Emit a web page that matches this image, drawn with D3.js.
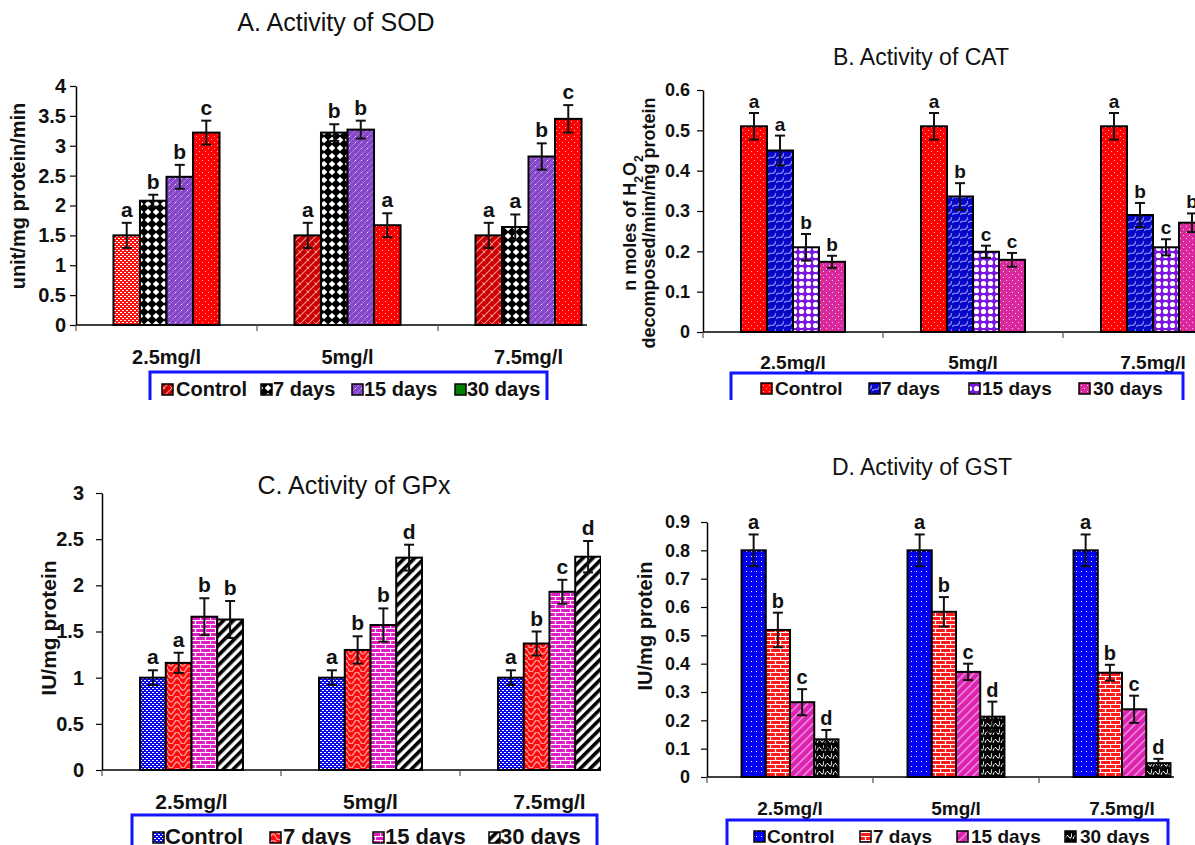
<!DOCTYPE html>
<html>
<head>
<meta charset="utf-8">
<script src="https://cdn.jsdelivr.net/npm/d3@7"></script>
<style>
  body { margin: 0; background: #fff; }
  text { font-family: "Liberation Sans", Arial, sans-serif; }
</style>
</head>
<body>
<svg id="fig" width="1195" height="845"></svg>
<script>
// ---- data (rows = dose, columns = Control / 7 / 15 / 30 days) ----
const doses = ["2.5mg/l", "5mg/l", "7.5mg/l"];
const groups = ["Control", "7 days", "15 days", "30 days"];

const sodMean = [[1.5, 2.08, 2.48, 3.22], [1.5, 3.22, 3.27, 1.67], [1.5, 1.64, 2.82, 3.45]];
const sodErr = [[0.21, 0.1, 0.2, 0.2], [0.21, 0.14, 0.15, 0.2], [0.21, 0.21, 0.22, 0.23]];
const sodSig = [["a", "b", "b", "c"], ["a", "b", "b", "a"], ["a", "a", "b", "c"]];
const sodTicks = [0, 0.5, 1, 1.5, 2, 2.5, 3, 3.5, 4];

const catMean = [[0.51, 0.45, 0.21, 0.174], [0.51, 0.336, 0.199, 0.179], [0.51, 0.29, 0.21, 0.271]];
const catErr = [[0.033, 0.037, 0.033, 0.015], [0.033, 0.033, 0.015, 0.017], [0.033, 0.03, 0.02, 0.023]];
const catSig = [["a", "a", "b", "b"], ["a", "b", "c", "c"], ["a", "b", "c", "b"]];
const catTicks = [0, 0.1, 0.2, 0.3, 0.4, 0.5, 0.6];

const gpxMean = [[1.0, 1.16, 1.66, 1.63], [1.0, 1.3, 1.57, 2.3], [1.0, 1.37, 1.93, 2.31]];
const gpxErr = [[0.08, 0.11, 0.2, 0.2], [0.08, 0.148, 0.18, 0.14], [0.08, 0.13, 0.13, 0.17]];
const gpxSig = [["a", "a", "b", "b"], ["a", "b", "b", "d"], ["a", "b", "c", "d"]];
const gpxTicks = [0, 0.5, 1, 1.5, 2, 2.5, 3];

const gstMean = [[0.8, 0.519, 0.264, 0.133], [0.8, 0.583, 0.371, 0.213], [0.8, 0.368, 0.239, 0.049]];
const gstErr = [[0.056, 0.061, 0.046, 0.033], [0.056, 0.052, 0.029, 0.053], [0.056, 0.028, 0.048, 0.015]];
const gstSig = [["a", "b", "c", "d"], ["a", "b", "c", "d"], ["a", "b", "c", "d"]];
const gstTicks = [0, 0.1, 0.2, 0.3, 0.4, 0.5, 0.6, 0.7, 0.8, 0.9];

const svg = d3.select("#fig");
const defs = svg.append("defs");

// ---- fill patterns (imitating the Excel pattern fills) ----
function pattern(id, w, h, bg, extra, rot) {
  const p = defs.append("pattern").attr("id", id)
    .attr("patternUnits", "userSpaceOnUse")
    .attr("width", w).attr("height", h);
  if (rot) p.attr("patternTransform", `rotate(${rot})`);
  p.append("rect").attr("width", w).attr("height", h).attr("fill", bg);
  if (extra) extra(p);
}
const dots = (p, pts, fill, s) => pts.forEach(([a, b]) =>
  p.append("rect").attr("x", a).attr("y", b).attr("width", s[0]).attr("height", s[1]).attr("fill", fill));
const stroke = (p, d, col, sw) => p.append("path").attr("d", d)
  .attr("fill", "none").attr("stroke", col).attr("stroke-width", sw);

pattern("redDots", 6, 6, "#ff0000", p => dots(p, [[1, 1], [4, 4]], "#ffc0c0", [1, 1]));
pattern("redConfetti", 4, 4, "#ff1010", p => dots(p, [[0, 0], [2, 2]], "#ffffff", [2, 1]));
pattern("redHatch", 8, 8, "#c80000", p => {
  stroke(p, "M-1,9 L9,-1 M-1,1 L1,-1 M7,9 L9,7", "#ff8a8a", 1.2);
  stroke(p, "M2,2 L5,5", "#ff9a9a", 1);
});
pattern("blackDiamond", 8, 8, "#000000", p =>
  p.append("path").attr("d", "M4,0.7 L7.3,4 L4,7.3 L0.7,4Z").attr("fill", "#fff"));
pattern("purpleFine", 6, 6, "#8646c8", p => {
  stroke(p, "M-1,7 L7,-1", "#a878e0", 1);
  dots(p, [[1, 4]], "#e6d8ff", [1, 1]);
});
pattern("blueWave", 8, 8, "#0808c8", p => stroke(p, "M0,7 C2,3 6,9 8,1", "#8c8cff", 1.2));
pattern("purpleCheck", 7, 7, "#7a16e0", p =>
  p.append("circle").attr("cx", 3.5).attr("cy", 3.5).attr("r", 2.6).attr("fill", "#fff"));
pattern("magentaDots", 6, 6, "#d82a9c", p => dots(p, [[1, 1], [4, 4]], "#ffc8e8", [1, 1]));
pattern("blueDense", 4, 4, "#0a0ae8", p => dots(p, [[0, 0], [2, 2]], "#ffffff", [2, 1]));
pattern("redWave", 12, 12, "#ff0a0a", p =>
  stroke(p, "M0,3 Q3,9 6,3 T12,3 M0,9 Q3,15 6,9 T12,9", "#ff9a9a", 1.4));
pattern("magentaBrick", 10, 8, "#e21cc4", p =>
  stroke(p, "M0,0.5 H10 M0,4.5 H10 M0.5,0 V4 M5.5,4 V8", "#ffffff", 1.2));
pattern("blackStripes", 7, 7, "#ffffff", p =>
  p.append("rect").attr("width", 3.6).attr("height", 7).attr("fill", "#000"), 45);
pattern("redBrick", 10, 8, "#ff1a1a", p =>
  stroke(p, "M0,0.5 H10 M0,4.5 H10 M0.5,0 V4 M5.5,4 V8", "#ffffff", 1.2));
pattern("magentaDiag", 6, 6, "#dc22b0", p =>
  p.append("rect").attr("width", 1.3).attr("height", 6).attr("fill", "#f4a0e0"), 45);
pattern("blackWave", 8, 8, "#000000", p => stroke(p, "M1,7 Q3,1 5,5 T8,1", "#ffffff", 1));
pattern("blueSparse", 5, 5, "#0000f0", p => dots(p, [[1, 1]], "#ffffff", [1, 1]));

const url = id => id.startsWith("#") ? id : `url(#${id})`;

// ---- panel layouts ----
const panels = [
  {
    id: "A", mean: sodMean, err: sodErr, sig: sodSig, ticks: sodTicks,
    left: 76, step: 181, pad: 0.414, bottom: 325, top: 86, clip: [0, 0, 587, 400],
    fill: (i, j) => j === 0 ? (i === 0 ? "redConfetti" : "redHatch") : ["", "blackDiamond", "purpleFine", "redDots"][j],
    title: "A. Activity of SOD", titleX: 336, titleY: 31, titleSize: 25,
    tickFont: 20, tickPad: 4, catFont: 20, catY: 364, sigFont: 21, sigGap: 6,
    ylab: [{ parts: [["unit/mg protein/min"]], x: 25 }], ylabY: 196, ylabFont: 20,
    legend: { x: 150, w: 397, top: 372, base: 396, font: 20,
      items: [[162, 176], [261, 273], [352, 364], [455, 467]],
      fills: ["redHatch", "blackDiamond", "purpleFine", "#008000"] }
  },
  {
    id: "B", mean: catMean, err: catErr, sig: catSig, ticks: catTicks,
    left: 703, step: 180, pad: 0.422, bottom: 332, top: 90, clip: [600, 0, 595, 400],
    fill: (i, j) => ["redDots", "blueWave", "purpleCheck", "magentaDots"][j],
    title: "B. Activity of CAT", titleX: 921, titleY: 65, titleSize: 23,
    tickFont: 18, tickPad: 7, catFont: 19, catY: 369, sigFont: 19, sigGap: 5,
    ylab: [{ parts: [["n moles of H"], ["2", "sub"], ["O"], ["2", "sub"]], x: 636 },
           { parts: [["decomposed/mim/mg protein"]], x: 655 }], ylabY: 223, ylabFont: 18,
    legend: { x: 731, w: 452, top: 373, base: 395, font: 19,
      items: [[761, 775], [869, 881], [969, 982], [1079, 1093]],
      fills: ["redDots", "blueWave", "purpleCheck", "magentaDots"] }
  },
  {
    id: "C", mean: gpxMean, err: gpxErr, sig: gpxSig, ticks: gpxTicks,
    left: 102, step: 179, pad: 0.425, bottom: 770, top: 493, clip: [0, 455, 601, 390],
    fill: (i, j) => ["blueDense", "redWave", "magentaBrick", "blackStripes"][j],
    title: "C. Activity of GPx", titleX: 354, titleY: 494, titleSize: 25,
    tickFont: 20, tickPad: 12, catFont: 21, catY: 809, sigFont: 21, sigGap: 6,
    ylab: [{ parts: [["IU/mg protein"]], x: 56 }], ylabY: 628, ylabFont: 21,
    legend: { x: 132, w: 465, top: 815, base: 844, font: 22,
      items: [[153, 165], [270, 283], [373, 385], [489, 500]],
      fills: ["blueDense", "redWave", "magentaBrick", "blackStripes"] }
  },
  {
    id: "D", mean: gstMean, err: gstErr, sig: gstSig, ticks: gstTicks,
    left: 707, step: 166, pad: 0.416, bottom: 777, top: 522, clip: [601, 455, 573, 390],
    fill: (i, j) => ["blueSparse", "redBrick", "magentaDiag", "blackWave"][j],
    title: "D. Activity of GST", titleX: 922, titleY: 475, titleSize: 23,
    tickFont: 18, tickPad: 11, catFont: 19, catY: 815, sigFont: 20, sigGap: 5,
    ylab: [{ parts: [["IU/mg protein"]], x: 652 }], ylabY: 626, ylabFont: 20,
    legend: { x: 727, w: 441, top: 820, base: 843, font: 19,
      items: [[754, 767], [860, 873], [957, 971], [1065, 1080]],
      fills: ["blueSparse", "redBrick", "magentaDiag", "blackWave"] }
  }
];

function drawPanel(cfg) {
  defs.append("clipPath").attr("id", `clip${cfg.id}`)
    .append("rect").attr("x", cfg.clip[0]).attr("y", cfg.clip[1])
    .attr("width", cfg.clip[2]).attr("height", cfg.clip[3]);
  const g = svg.append("g").attr("clip-path", `url(#clip${cfg.id})`);

  const x0 = d3.scaleBand().domain(doses)
    .range([cfg.left, cfg.left + 3 * cfg.step])
    .paddingInner(cfg.pad).paddingOuter(cfg.pad / 2);
  const x1 = d3.scaleBand().domain(groups).range([0, x0.bandwidth()]);
  const y = d3.scaleLinear().domain([0, d3.max(cfg.ticks)]).range([cfg.bottom, cfg.top]);

  // title
  g.append("text").attr("x", cfg.titleX).attr("y", cfg.titleY)
    .attr("text-anchor", "middle").attr("font-size", cfg.titleSize)
    .attr("fill", "#111").text(cfg.title);

  // y axis
  const yAxis = g.append("g").attr("transform", `translate(${cfg.left},0)`)
    .call(d3.axisLeft(y).tickValues(cfg.ticks).tickSizeInner(6).tickSizeOuter(0)
      .tickPadding(cfg.tickPad).tickFormat(d3.format("")));
  yAxis.select(".domain").attr("stroke", "#000").attr("stroke-width", 1.5);
  yAxis.selectAll(".tick line").attr("stroke", "#000").attr("stroke-width", 1.2);
  yAxis.selectAll(".tick text").attr("font-size", cfg.tickFont)
    .attr("font-weight", "bold").attr("fill", "#111")
    .attr("font-family", "Liberation Sans, Arial, sans-serif");

  // x axis with ticks at the category boundaries
  g.append("line").attr("x1", cfg.left).attr("x2", cfg.left + 3 * cfg.step)
    .attr("y1", cfg.bottom).attr("y2", cfg.bottom)
    .attr("stroke", "#000").attr("stroke-width", 1.5);
  const edge = d => x0(d) - x0.step() * x0.paddingInner() / 2;
  g.selectAll(".xtick").data(doses).enter().append("line")
    .attr("x1", edge).attr("x2", edge)
    .attr("y1", cfg.bottom).attr("y2", cfg.bottom + 6)
    .attr("stroke", "#555").attr("stroke-width", 1.2);
  g.selectAll(".xlab").data(doses).enter().append("text")
    .attr("x", d => x0(d) + x0.bandwidth() / 2).attr("y", cfg.catY)
    .attr("text-anchor", "middle").attr("font-size", cfg.catFont)
    .attr("font-weight", "bold").attr("fill", "#111").text(d => d);

  // y axis title
  cfg.ylab.forEach(l => {
    const t = g.append("text")
      .attr("transform", `translate(${l.x},${cfg.ylabY}) rotate(-90)`)
      .attr("text-anchor", "middle").attr("font-size", cfg.ylabFont)
      .attr("font-weight", "bold").attr("fill", "#111");
    l.parts.forEach(([s, kind]) => {
      const sp = t.append("tspan").text(s);
      if (kind === "sub") sp.attr("font-size", cfg.ylabFont * 0.68).attr("baseline-shift", "sub");
    });
  });

  // bars, error bars and letters
  const rows = [];
  doses.forEach((d, i) => groups.forEach((k, j) => rows.push({
    d, k, i, j, v: cfg.mean[i][j], e: cfg.err[i][j], s: cfg.sig[i][j]
  })));
  const bx = r => x0(r.d) + x1(r.k);
  const bw = x1.bandwidth();

  g.selectAll(".bar").data(rows).enter().append("rect")
    .attr("x", bx).attr("y", r => y(r.v))
    .attr("width", bw).attr("height", r => cfg.bottom - y(r.v))
    .attr("fill", r => url(cfg.fill(r.i, r.j)))
    .attr("stroke", "#000").attr("stroke-width", 2);

  const eb = g.selectAll(".err").data(rows).enter().append("g")
    .attr("stroke", "#111").attr("stroke-width", 2);
  eb.append("line").attr("x1", r => bx(r) + bw / 2).attr("x2", r => bx(r) + bw / 2)
    .attr("y1", r => y(r.v - r.e)).attr("y2", r => y(r.v + r.e));
  eb.append("line").attr("x1", r => bx(r) + bw / 2 - 5).attr("x2", r => bx(r) + bw / 2 + 5)
    .attr("y1", r => y(r.v - r.e)).attr("y2", r => y(r.v - r.e));
  eb.append("line").attr("x1", r => bx(r) + bw / 2 - 5).attr("x2", r => bx(r) + bw / 2 + 5)
    .attr("y1", r => y(r.v + r.e)).attr("y2", r => y(r.v + r.e));

  g.selectAll(".sig").data(rows).enter().append("text")
    .attr("x", r => bx(r) + bw / 2).attr("y", r => y(r.v + r.e) - cfg.sigGap)
    .attr("text-anchor", "middle").attr("font-size", cfg.sigFont)
    .attr("font-weight", "bold").attr("fill", "#111").text(r => r.s);

  // legend (box runs past the bottom of the cropped panel)
  const L = cfg.legend;
  g.append("rect").attr("x", L.x).attr("y", L.top).attr("width", L.w).attr("height", 60)
    .attr("fill", "#fff").attr("stroke", "#1414ff").attr("stroke-width", 3);
  const li = g.selectAll(".leg").data(groups).enter().append("g");
  li.append("rect").attr("x", (d, j) => L.items[j][0]).attr("y", L.base - 12)
    .attr("width", 11).attr("height", 11)
    .attr("fill", (d, j) => url(L.fills[j])).attr("stroke", "#000").attr("stroke-width", 1.5);
  li.append("text").attr("x", (d, j) => L.items[j][1]).attr("y", L.base)
    .attr("font-size", L.font).attr("font-weight", "bold").attr("fill", "#111").text(d => d);
}

panels.forEach(drawPanel);
</script>
</body>
</html>
